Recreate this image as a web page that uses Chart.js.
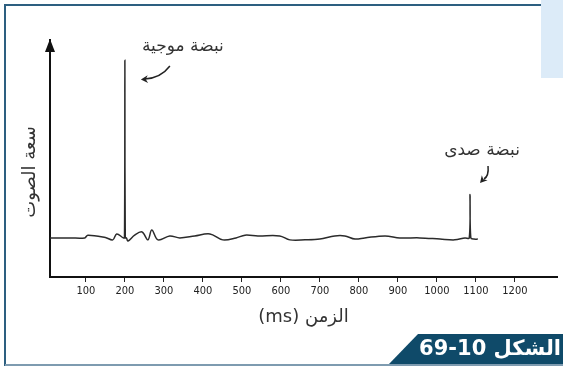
<!DOCTYPE html>
<html>
<head>
<meta charset="utf-8">
<script src="https://cdn.jsdelivr.net/npm/chart.js@4.4.0/dist/chart.umd.min.js"></script>
<style>
html, body { margin: 0; padding: 0; background: #fff; }
#wrap { position: relative; width: 563px; height: 368px; }
</style>
</head>
<body>
<div id="wrap"><canvas id="sonarChart" width="563" height="368" dir="rtl"></canvas></div>
<script>
// time (ms) and amplitude
const times = [8, 60, 97, 105, 150, 169, 179, 196, 199, 200, 201, 204, 208, 225, 244, 259, 269, 285, 315, 341,
  379, 418, 451, 485, 508, 541, 597, 623, 662, 700, 738, 764, 790, 815, 867, 905, 956, 1008, 1046, 1072,
  1083, 1085, 1087, 1095, 1105];
const amps = [-0.01, -0.01, -0.01, 0.06, 0, -0.06, 0.09, -0.01, -0.01, 4.49, -0.01, -0.01, -0.09, 0.06, 0.14, -0.06, 0.19, -0.06, 0.04, -0.01,
  0.04, 0.09, -0.06, -0.01, 0.06, 0.04, 0.04, -0.06, -0.06, -0.04, 0.04, 0.04, -0.04, -0.01, 0.04, -0.01, -0.01, -0.04, -0.06, -0.01,
  -0.01, 1.09, -0.01, -0.04, -0.04];
const tickValues = [100, 200, 300, 400, 500, 600, 700, 800, 900, 1000, 1100, 1200];

const xTitle = 'الزمن (ms)';
const yTitle = 'سعة الصوت';
const sentLabel = 'نبضة موجية';
const echoLabel = 'نبضة صدى';
const figureLabel = 'الشكل 10-69';
const sentTime = 200;
const echoTime = 1085;

const arabicFont = '"DejaVu Sans", "Noto Sans", sans-serif';

function arrowHead(ctx, x, y, angle, size) {
  ctx.save();
  ctx.translate(x, y);
  ctx.rotate(angle);
  ctx.beginPath();
  ctx.moveTo(0, 0);
  ctx.lineTo(-size, -size * 0.55);
  ctx.lineTo(-size * 0.7, 0);
  ctx.lineTo(-size, size * 0.55);
  ctx.closePath();
  ctx.fill();
  ctx.restore();
}

const decorations = {
  id: 'decorations',
  beforeDraw(chart) {
    const ctx = chart.ctx;
    ctx.save();
    ctx.fillStyle = '#fff';
    ctx.fillRect(0, 0, chart.width, chart.height);
    // light box top right
    ctx.fillStyle = '#dcebf8';
    ctx.fillRect(541, 0, 22, 78);
    // frame
    ctx.strokeStyle = '#2d5f80';
    ctx.lineWidth = 2;
    ctx.beginPath();
    ctx.moveTo(541, 5);
    ctx.lineTo(5, 5);
    ctx.lineTo(5, 366);
    ctx.stroke();
    ctx.strokeStyle = '#7e9bb0';
    ctx.beginPath();
    ctx.moveTo(5, 365);
    ctx.lineTo(563, 365);
    ctx.stroke();
    ctx.restore();
  },
  afterDraw(chart) {
    const ctx = chart.ctx;
    const x = chart.scales.x;
    const area = chart.chartArea;
    ctx.save();
    ctx.fillStyle = '#111';
    ctx.strokeStyle = '#111';

    // arrow on the y axis
    ctx.beginPath();
    ctx.moveTo(area.left, area.top - 1);
    ctx.lineTo(area.left - 5, area.top + 12);
    ctx.lineTo(area.left + 5, area.top + 12);
    ctx.closePath();
    ctx.fill();

    // y title
    ctx.save();
    ctx.translate(30, 172);
    ctx.rotate(-Math.PI / 2);
    ctx.direction = 'rtl';
    ctx.textAlign = 'center';
    ctx.textBaseline = 'middle';
    ctx.font = '18px ' + arabicFont;
    ctx.fillStyle = '#333';
    ctx.fillText(yTitle, 0, 0);
    ctx.restore();

    // annotations
    const sx = x.getPixelForValue(sentTime);
    const ex = x.getPixelForValue(echoTime);
    ctx.direction = 'rtl';
    ctx.textAlign = 'center';
    ctx.textBaseline = 'middle';
    ctx.font = '17px ' + arabicFont;
    ctx.fillStyle = '#333';
    ctx.fillText(sentLabel, sx + 58, 47);
    ctx.fillText(echoLabel, ex + 12, 151);

    ctx.lineWidth = 1.5;
    ctx.strokeStyle = '#222';
    ctx.fillStyle = '#222';
    ctx.beginPath();
    ctx.moveTo(sx + 45, 66);
    ctx.quadraticCurveTo(sx + 36, 78, sx + 20, 79);
    ctx.stroke();
    arrowHead(ctx, sx + 16, 79.5, Math.PI - 0.05, 7);

    ctx.beginPath();
    ctx.moveTo(ex + 18, 166);
    ctx.quadraticCurveTo(ex + 19, 176, ex + 14, 179);
    ctx.stroke();
    arrowHead(ctx, ex + 10, 183, 2.3, 7);

    // figure banner
    ctx.fillStyle = '#0f4a69';
    ctx.beginPath();
    ctx.moveTo(418, 334);
    ctx.lineTo(563, 334);
    ctx.lineTo(563, 364);
    ctx.lineTo(389, 364);
    ctx.closePath();
    ctx.fill();
    ctx.fillStyle = '#fff';
    ctx.font = 'bold 21px ' + arabicFont;
    ctx.textAlign = 'right';
    ctx.direction = 'rtl';
    ctx.fillText(figureLabel, 561, 350);
    ctx.restore();
  }
};

const points = times.map((t, i) => ({ x: t, y: amps[i] }));

new Chart(document.getElementById('sonarChart'), {
  type: 'line',
  data: {
    datasets: [{
      data: points,
      borderColor: '#2b2b2b',
      borderWidth: 1.5,
      pointRadius: 0,
      tension: 0.35,
      fill: false
    }]
  },
  options: {
    responsive: false,
    animation: false,
    devicePixelRatio: 1,
    layout: { padding: { top: 40, right: 6, bottom: 0, left: 0 } },
    plugins: { legend: { display: false }, tooltip: { enabled: false } },
    scales: {
      x: {
        type: 'linear',
        min: 8,
        max: 1308,
        afterBuildTicks: s => { s.ticks = tickValues.map(v => ({ value: v })); },
        afterFit: s => { s.height = 91; },
        grid: { drawOnChartArea: false, drawTicks: true, tickLength: 5, color: '#222', lineWidth: 1 },
        border: { display: true, color: '#111', width: 2 },
        ticks: {
          color: '#222',
          padding: 3,
          maxRotation: 0,
          autoSkip: false,
          callback: v => String(v),
          font: { family: '"Liberation Sans Narrow", "DejaVu Sans Condensed", sans-serif', size: 11 }
        },
        title: {
          display: true,
          text: xTitle,
          color: '#333',
          font: { family: arabicFont, size: 18 },
          padding: { top: 4, bottom: 40 }
        }
      },
      y: {
        min: -1,
        max: 5,
        afterFit: s => { s.width = 50; },
        grid: { display: false },
        border: { display: true, color: '#111', width: 2 },
        ticks: { display: false }
      }
    }
  },
  plugins: [decorations]
});
</script>
</body>
</html>
